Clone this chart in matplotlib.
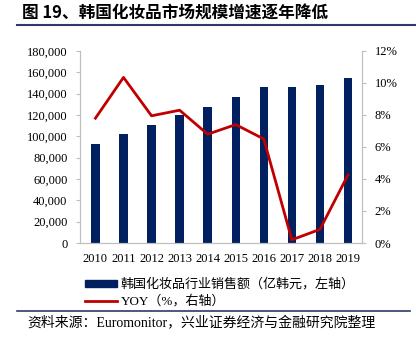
import matplotlib
matplotlib.use("Agg")
import matplotlib.pyplot as plt
from matplotlib.lines import Line2D
from matplotlib.ticker import FuncFormatter

plt.rcParams["font.family"] = ["Liberation Serif", "Noto Sans CJK SC"]
plt.rcParams["axes.unicode_minus"] = False

# ── 数据 ──────────────────────────────────────────
YEARS = ["2010", "2011", "2012", "2013", "2014", "2015", "2016", "2017", "2018", "2019"]
SALES = [92500, 102200, 110300, 119700, 127800, 137200, 146300, 146500, 148100, 154400]
YOY = [7.8, 10.35, 7.95, 8.3, 6.8, 7.4, 6.5, 0.2, 0.85, 4.25]

BAR_C = "#002060"
LINE_C = "#C00000"
SPINE_C = "#BFBFBF"

fig = plt.figure(figsize=(4.16, 3.41), dpi=100)
ax = fig.add_axes([80 / 416, 98 / 341, 282 / 416, 192 / 341])
ax2 = ax.twinx()

xs = range(len(YEARS))
ax.bar(xs, SALES, width=0.3, color=BAR_C, zorder=2,
       label="韩国化妆品行业销售额（亿韩元，左轴）")
ax2.plot(xs, YOY, color=LINE_C, lw=2, zorder=3, label="YOY（%，右轴）")

ax.set_xlim(-0.55, 9.5)
ax.set_ylim(0, 180000)
ax.set_yticks(range(0, 180001, 20000))
ax.yaxis.set_major_formatter(FuncFormatter(lambda v, p: f"{int(v):,}"))
ax2.set_ylim(0, 12)
ax2.set_yticks(range(0, 13, 2))
ax2.yaxis.set_major_formatter(FuncFormatter(lambda v, p: f"{int(v)}%"))
ax.set_xticks(list(xs))
ax.set_xticklabels(YEARS)

for a in (ax, ax2):
    a.spines["top"].set_visible(False)
    for s in ("left", "right", "bottom"):
        a.spines[s].set_color(SPINE_C)
    a.tick_params(labelsize=9, colors="black", length=3, width=0.8)
ax.tick_params(axis="y", color=SPINE_C, pad=6)
ax2.tick_params(axis="y", color=SPINE_C, pad=6)
ax.tick_params(axis="x", length=0, pad=7)
ax.patch.set_visible(False)

# ── 标题、分隔线、图例、来源 ──────────────────────
fig.text(22 / 416, 1 - 14 / 341, "图 19、韩国化妆品市场规模增速逐年降低",
         fontsize=12, fontweight="bold", va="center", ha="left",
         family=["Noto Sans CJK SC"])
fig.add_artist(Line2D([17 / 416, 1.0], [1 - 25 / 341] * 2,
                      color="#2F3A6A", lw=1.5))
fig.add_artist(Line2D([17 / 416, 410 / 416], [1 - 311 / 341] * 2,
                      color="#2F3A6A", lw=1.2))

handles = [plt.Rectangle((0, 0), 1, 1, color=BAR_C),
           Line2D([], [], color=LINE_C, lw=2)]
labels = ["韩国化妆品行业销售额（亿韩元，左轴）", "YOY（%，右轴）"]
fig.legend(handles, labels, loc="upper left",
           bbox_to_anchor=(80 / 416, 1 - 273 / 341), frameon=False,
           fontsize=9.4, handlelength=2.4, handleheight=0.5,
           labelspacing=0.3, borderaxespad=0, handletextpad=0.3)

fig.text(27 / 416, 1 - 323 / 341,
         "资料来源：Euromonitor，兴业证券经济与金融研究院整理",
         fontsize=10, va="center", ha="left")

fig.savefig("out.png", dpi=100)
